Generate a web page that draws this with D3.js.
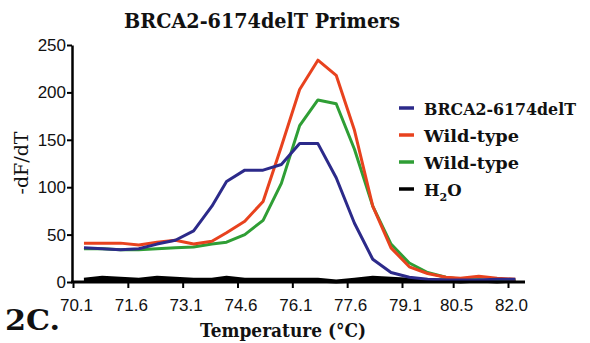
<!DOCTYPE html>
<html>
<head>
<meta charset="utf-8">
<script src="https://cdn.jsdelivr.net/npm/d3@7"></script>
<style>
  body { margin: 0; background: #fff; }
  svg text { fill: #111; }
  .serif { font-family: "DejaVu Serif", "Liberation Serif", serif; }
</style>
</head>
<body>
<svg id="chart" width="590" height="343"></svg>
<script>
// melt curve temperatures (one reading every ~0.5 C)
const temps = [70.4, 70.9, 71.4, 71.9, 72.4, 72.9, 73.4, 73.9, 74.3, 74.8, 75.3, 75.8, 76.3,
               76.8, 77.3, 77.8, 78.3, 78.8, 79.3, 79.8, 80.3, 80.7, 81.2, 81.7, 82.2];

const mutant = [36, 35, 34, 35, 40, 44, 54, 80, 106, 118, 118, 124, 146,
                146, 110, 62, 24, 10, 5, 3, 2, 2, 2, 3, 3];
const wildA  = [41, 41, 41, 39, 42, 44, 40, 43, 52, 64, 85, 143, 203,
                234, 218, 160, 80, 36, 16, 9, 5, 4, 6, 4, 3];
const wildB  = [35, 35, 34, 34, 35, 36, 37, 40, 42, 50, 65, 104, 165,
                192, 188, 140, 80, 40, 20, 10, 5, 3, 2, 1, 2];
const waterA = [3, 5, 4, 3, 5, 4, 3, 3, 5, 3, 3, 3, 3,
                3, 1, 3, 5, 4, 3, 2, 2, 1, 2, 1, 2];
const waterB = [1, 3, 2, 1, 3, 2, 1, 1, 3, 1, 1, 1, 1,
                1, 0, 1, 3, 2, 1, 1, 1, 0, 1, 0, 1];

const xTicks = [70.1, 71.6, 73.1, 74.6, 76.1, 77.6, 79.1, 80.5, 82.0];
const yTicks = [0, 50, 100, 150, 200, 250];

const seriesNames = ["BRCA2-6174delT", "Wild-type", "Wild-type", "H2O"];
const seriesColors = ["#2c2a8a", "#e8421e", "#2f9e35", "#000000"];

const svg = d3.select("#chart");

let x = d3.scaleLinear().domain([70.1, 82.0]).range([73, 508]);
let y = d3.scaleLinear().domain([0, 250]).range([282, 45]);

// title
svg.append("text")
    .attr("class", "serif")
    .attr("x", 124)
    .attr("y", 28)
    .attr("textLength", 276)
    .attr("lengthAdjust", "spacingAndGlyphs")
    .style("font-weight", "bold")
    .style("font-size", "20px")
    .text("BRCA2-6174delT Primers");

// the curves
let line = d3.line()
    .x(function (d, i) { return x(temps[i]); })
    .y(function (d) { return y(d); });

let curves = [
    { values: waterA, color: seriesColors[3], w: 3 },
    { values: waterB, color: seriesColors[3], w: 3 },
    { values: wildB, color: seriesColors[2], w: 3 },
    { values: wildA, color: seriesColors[1], w: 3 },
    { values: mutant, color: seriesColors[0], w: 3 }
];

svg.selectAll(".curve")
    .data(curves)
    .enter()
    .append("path")
    .attr("class", "curve")
    .attr("d", function (d) { return line(d.values); })
    .style("fill", "none")
    .style("stroke", function (d) { return d.color; })
    .style("stroke-width", function (d) { return d.w; })
    .style("stroke-linejoin", "round");

// y axis
let yAxis = svg.append("g")
    .attr("transform", "translate(72,0)")
    .call(d3.axisLeft(y).tickValues(yTicks).tickSize(5).tickSizeOuter(0));
yAxis.select(".domain").attr("stroke-width", 2.5);
yAxis.selectAll(".tick line").attr("stroke-width", 2);
yAxis.selectAll(".tick text")
    .attr("x", -6)
    .style("font-family", "'Liberation Sans', Arial, sans-serif")
    .style("font-size", "17px");

// x axis
let xAxis = svg.append("g")
    .attr("transform", "translate(0,282)")
    .call(d3.axisBottom(x).tickValues(xTicks).tickFormat(d3.format(".1f")).tickSize(6).tickSizeOuter(0));
xAxis.select(".domain").remove();
xAxis.append("line")
    .attr("x1", 71).attr("x2", 525)
    .attr("stroke", "#000").attr("stroke-width", 3);
xAxis.selectAll(".tick line").attr("stroke-width", 2);
xAxis.selectAll(".tick text")
    .attr("y", 17)
    .attr("dx", 3)
    .style("font-family", "'Liberation Sans', Arial, sans-serif")
    .style("font-size", "17px");

// axis titles
svg.append("text")
    .attr("class", "serif")
    .attr("transform", "translate(28,163) rotate(-90)")
    .attr("text-anchor", "middle")
    .style("font-size", "19px")
    .text("-dF/dT");

svg.append("text")
    .attr("class", "serif")
    .attr("x", 200)
    .attr("y", 337)
    .attr("textLength", 166)
    .attr("lengthAdjust", "spacingAndGlyphs")
    .style("font-weight", "bold")
    .style("font-size", "19px")
    .text("Temperature (\u00B0C)");

svg.append("text")
    .attr("class", "serif")
    .attr("x", 5)
    .attr("y", 330)
    .attr("textLength", 55)
    .attr("lengthAdjust", "spacingAndGlyphs")
    .style("font-weight", "bold")
    .style("font-size", "28px")
    .text("2C.");

// legend
let legend = svg.append("g").attr("transform", "translate(399,108)");
let items = legend.selectAll(".item")
    .data(seriesNames)
    .enter()
    .append("g")
    .attr("transform", function (d, i) { return "translate(0," + (i * 27) + ")"; });

items.append("line")
    .attr("x1", 0).attr("x2", 15)
    .attr("stroke", function (d, i) { return seriesColors[i]; })
    .attr("stroke-width", 3.5);

let legendWidths = { "BRCA2-6174delT": 152, "Wild-type": 95 };

items.append("text")
    .attr("class", "serif")
    .attr("x", 25)
    .attr("y", 7)
    .style("font-weight", "bold")
    .style("font-size", "16.5px")
    .each(function (d) {
        let t = d3.select(this);
        if (d === "H2O") {
            t.append("tspan").text("H");
            t.append("tspan").attr("dy", 5).style("font-size", "11px").text("2");
            t.append("tspan").attr("dy", -5).text("O");
        } else {
            t.attr("textLength", legendWidths[d])
                .attr("lengthAdjust", "spacingAndGlyphs")
                .text(d);
        }
    });
</script>
</body>
</html>
